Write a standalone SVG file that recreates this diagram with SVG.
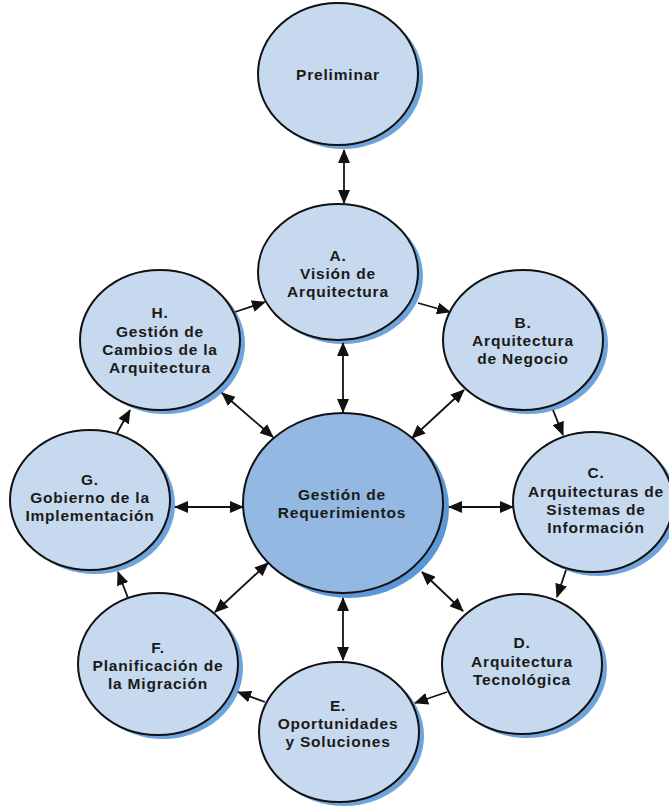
<svg xmlns="http://www.w3.org/2000/svg" width="669" height="807" viewBox="0 0 669 807">
<style>
.sh{fill:#6fa3dc}
.nd{fill:#c6d9ef;stroke:#111;stroke-width:2}
.ctr{fill:#93b9e2;stroke:#111;stroke-width:2}
.csh{fill:#5b97d6}
text{font-family:"Liberation Sans",Arial,sans-serif;font-weight:700;font-size:15.5px;letter-spacing:0.8px;fill:#1a1a1a;text-anchor:middle}
.c line{stroke:#111;stroke-width:1.8}
</style>
<defs>
<marker id="ah" markerUnits="userSpaceOnUse" markerWidth="14" markerHeight="12" refX="13" refY="6" orient="auto-start-reverse" viewBox="0 0 14 12">
<path d="M0,0 L14,6 L0,12 z" fill="#111"/>
</marker>
</defs>
<rect width="669" height="807" fill="#fff"/>
<g id="preliminar">
<ellipse class="sh" cx="343" cy="78" rx="80" ry="71"/>
<ellipse class="nd" cx="338" cy="74" rx="80" ry="71"/>
<text x="338" y="80">Preliminar</text>
</g>
<g id="A">
<ellipse class="sh" cx="343" cy="276" rx="80" ry="68"/>
<ellipse class="nd" cx="338" cy="272" rx="80" ry="68"/>
<text x="338" y="261">A.</text>
<text x="338" y="279">Visión de</text>
<text x="338" y="297">Arquitectura</text>
</g>
<g id="B">
<ellipse class="sh" cx="528" cy="344" rx="80" ry="70"/>
<ellipse class="nd" cx="523" cy="340" rx="80" ry="70"/>
<text x="523" y="328">B.</text>
<text x="523" y="346">Arquitectura</text>
<text x="523" y="364">de Negocio</text>
</g>
<g id="C">
<ellipse class="sh" cx="598" cy="506" rx="80" ry="70"/>
<ellipse class="nd" cx="593" cy="502" rx="80" ry="70"/>
<text x="596" y="478">C.</text>
<text x="596" y="497">Arquitecturas de</text>
<text x="596" y="515">Sistemas de</text>
<text x="596" y="533">Información</text>
</g>
<g id="D">
<ellipse class="sh" cx="527" cy="668" rx="80" ry="70"/>
<ellipse class="nd" cx="522" cy="664" rx="80" ry="70"/>
<text x="522" y="648">D.</text>
<text x="522" y="667">Arquitectura</text>
<text x="522" y="685">Tecnológica</text>
</g>
<g id="E">
<ellipse class="sh" cx="344" cy="736" rx="80" ry="70"/>
<ellipse class="nd" cx="339" cy="732" rx="80" ry="70"/>
<text x="338" y="711">E.</text>
<text x="338" y="729">Oportunidades</text>
<text x="338" y="747">y Soluciones</text>
</g>
<g id="F">
<ellipse class="sh" cx="163" cy="668" rx="80" ry="71"/>
<ellipse class="nd" cx="158" cy="664" rx="80" ry="71"/>
<text x="158" y="653">F.</text>
<text x="158" y="671">Planificación de</text>
<text x="158" y="689">la Migración</text>
</g>
<g id="G">
<ellipse class="sh" cx="95" cy="504" rx="80" ry="70"/>
<ellipse class="nd" cx="90" cy="500" rx="80" ry="70"/>
<text x="90" y="485">G.</text>
<text x="90" y="503">Gobierno de la</text>
<text x="90" y="521">Implementación</text>
</g>
<g id="H">
<ellipse class="sh" cx="165" cy="344" rx="80" ry="70"/>
<ellipse class="nd" cx="160" cy="340" rx="80" ry="70"/>
<text x="160" y="318">H.</text>
<text x="160" y="337">Gestión de</text>
<text x="160" y="355">Cambios de la</text>
<text x="160" y="373">Arquitectura</text>
</g>
<g id="requerimientos">
<ellipse class="csh" cx="349" cy="508" rx="100" ry="90"/>
<ellipse class="ctr" cx="343" cy="503" rx="100" ry="90"/>
<text x="342" y="500">Gestión de</text>
<text x="342" y="518">Requerimientos</text>
</g>
<g id="connectors" class="c">
<line x1="344" y1="150" x2="344" y2="203" marker-start="url(#ah)" marker-end="url(#ah)"/>
<line x1="418" y1="303" x2="450" y2="312" marker-end="url(#ah)"/>
<line x1="553" y1="410" x2="563" y2="435" marker-end="url(#ah)"/>
<line x1="566" y1="570" x2="557" y2="597" marker-end="url(#ah)"/>
<line x1="447" y1="692" x2="415" y2="703" marker-end="url(#ah)"/>
<line x1="265" y1="702" x2="238" y2="692" marker-end="url(#ah)"/>
<line x1="128" y1="598" x2="118" y2="572" marker-end="url(#ah)"/>
<line x1="117" y1="433" x2="130" y2="410" marker-end="url(#ah)"/>
<line x1="235" y1="312" x2="265" y2="302" marker-end="url(#ah)"/>
<line x1="343" y1="343" x2="343" y2="412" marker-start="url(#ah)" marker-end="url(#ah)"/>
<line x1="412" y1="438" x2="464" y2="390" marker-start="url(#ah)" marker-end="url(#ah)"/>
<line x1="449" y1="507" x2="513" y2="507" marker-start="url(#ah)" marker-end="url(#ah)"/>
<line x1="422" y1="572" x2="463" y2="611" marker-start="url(#ah)" marker-end="url(#ah)"/>
<line x1="343" y1="598" x2="343" y2="660" marker-start="url(#ah)" marker-end="url(#ah)"/>
<line x1="215" y1="612" x2="268" y2="563" marker-start="url(#ah)" marker-end="url(#ah)"/>
<line x1="175" y1="507" x2="243" y2="507" marker-start="url(#ah)" marker-end="url(#ah)"/>
<line x1="222" y1="393" x2="273" y2="437" marker-start="url(#ah)" marker-end="url(#ah)"/>
</g>
</svg>
